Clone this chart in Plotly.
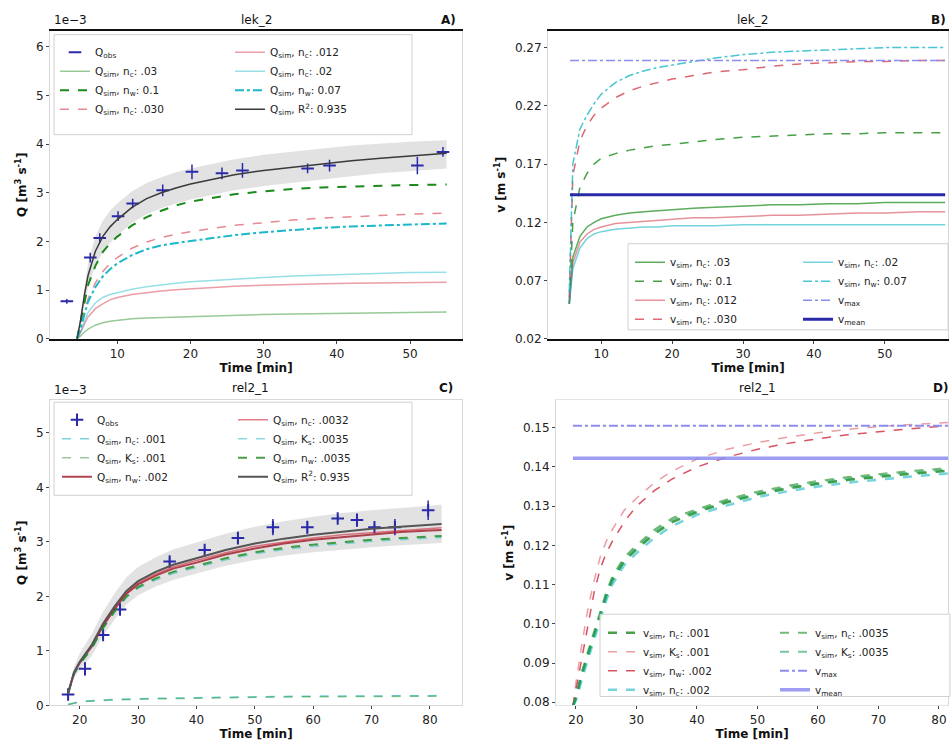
import plotly.graph_objects as go

W, H = 952, 751
FONT = "DejaVu Sans"

def fx(p):
    return p / W

def fy(p):
    return 1 - p / H

# ---------------- Panel A (lek_2, discharge) ----------------
tA = [4.5, 5, 5.5, 6, 7, 8, 9, 10, 12, 14, 16, 18, 20, 23, 26, 30, 34, 38, 42, 46, 50, 55]
qA_fit = [0, 0.4, 0.9, 1.3, 1.8, 2.1, 2.3, 2.45, 2.7, 2.88, 3.0, 3.1, 3.18, 3.28, 3.37, 3.46, 3.53, 3.6, 3.66, 3.71, 3.76, 3.81]
qA_up = [0, 0.55, 1.1, 1.55, 2.1, 2.42, 2.63, 2.78, 3.03, 3.2, 3.32, 3.42, 3.5, 3.6, 3.69, 3.78, 3.85, 3.91, 3.97, 4.01, 4.05, 4.08]
qA_lo = [0, 0.25, 0.7, 1.05, 1.5, 1.78, 1.97, 2.12, 2.38, 2.56, 2.68, 2.78, 2.86, 2.96, 3.05, 3.14, 3.21, 3.28, 3.34, 3.4, 3.45, 3.5]
qA_s1 = [0, 0.06, 0.14, 0.2, 0.28, 0.33, 0.36, 0.38, 0.41, 0.43, 0.44, 0.45, 0.46, 0.48, 0.49, 0.5, 0.51, 0.52, 0.53, 0.54, 0.55, 0.55]
qA_s2 = [0, 0.35, 0.75, 1.1, 1.5, 1.78, 1.96, 2.1, 2.33, 2.5, 2.63, 2.74, 2.82, 2.9, 2.97, 3.03, 3.08, 3.11, 3.13, 3.15, 3.16, 3.17]
qA_s3 = [0, 0.13, 0.3, 0.45, 0.62, 0.72, 0.8, 0.85, 0.91, 0.95, 0.98, 1.01, 1.03, 1.06, 1.08, 1.1, 1.12, 1.13, 1.14, 1.15, 1.16, 1.16]
qA_s4 = [0, 0.25, 0.55, 0.82, 1.15, 1.38, 1.55, 1.67, 1.86, 1.99, 2.08, 2.15, 2.2, 2.27, 2.33, 2.39, 2.44, 2.48, 2.51, 2.54, 2.56, 2.58]
qA_s5 = [0, 0.15, 0.36, 0.54, 0.74, 0.85, 0.91, 0.95, 1.02, 1.07, 1.11, 1.14, 1.17, 1.2, 1.23, 1.26, 1.29, 1.31, 1.33, 1.35, 1.36, 1.37]
qA_s6 = [0, 0.22, 0.5, 0.76, 1.06, 1.28, 1.43, 1.55, 1.72, 1.84, 1.92, 1.97, 2.01, 2.07, 2.13, 2.19, 2.24, 2.28, 2.31, 2.33, 2.35, 2.37]
tA_obs = [3.1, 6.3, 7.6, 10.1, 12.1, 16.2, 20.2, 24.3, 27.1, 36, 39, 51, 54.5]
qA_obs = [0.77, 1.67, 2.07, 2.52, 2.78, 3.05, 3.43, 3.4, 3.46, 3.5, 3.56, 3.56, 3.84]
qA_err = [0.05, 0.1, 0.1, 0.1, 0.1, 0.12, 0.15, 0.12, 0.15, 0.1, 0.12, 0.18, 0.1]

# ---------------- Panel B (lek_2, velocity) ----------------
tB = [5.5, 6, 7, 8, 9, 10, 12, 14, 16, 18, 20, 23, 26, 30, 34, 38, 42, 46, 50, 55, 58.5]
vB_s1 = [0.05, 0.09, 0.108, 0.116, 0.12, 0.123, 0.126, 0.128, 0.129, 0.13, 0.131, 0.132, 0.133, 0.134, 0.135, 0.135, 0.136, 0.136, 0.137, 0.137, 0.137]
vB_s2 = [0.05, 0.12, 0.15, 0.162, 0.17, 0.175, 0.179, 0.182, 0.184, 0.186, 0.187, 0.189, 0.191, 0.193, 0.194, 0.195, 0.196, 0.196, 0.197, 0.197, 0.197]
vB_s3 = [0.05, 0.085, 0.103, 0.11, 0.114, 0.116, 0.119, 0.12, 0.121, 0.122, 0.123, 0.124, 0.124, 0.125, 0.126, 0.126, 0.127, 0.128, 0.128, 0.129, 0.129]
vB_s4 = [0.055, 0.16, 0.19, 0.203, 0.212, 0.218, 0.227, 0.233, 0.237, 0.24, 0.243, 0.246, 0.249, 0.251, 0.254, 0.256, 0.257, 0.258, 0.258, 0.259, 0.259]
vB_s5 = [0.05, 0.08, 0.098, 0.106, 0.11, 0.112, 0.114, 0.115, 0.116, 0.116, 0.117, 0.117, 0.117, 0.118, 0.118, 0.118, 0.118, 0.118, 0.118, 0.118, 0.118]
vB_s6 = [0.06, 0.17, 0.2, 0.212, 0.222, 0.23, 0.24, 0.246, 0.25, 0.253, 0.255, 0.258, 0.261, 0.264, 0.266, 0.267, 0.268, 0.269, 0.27, 0.27, 0.27]
tB_line = [5.6, 58.5]
vB_max = [0.259, 0.259]
vB_mean = [0.1437, 0.1437]

# ---------------- Panel C (rel2_1, discharge) ----------------
tC = [18, 19, 20, 21, 22, 24, 26, 28, 30, 33, 36, 40, 45, 50, 55, 60, 65, 70, 75, 80, 82]
qC_fit = [0.22, 0.6, 0.8, 0.95, 1.1, 1.5, 1.82, 2.1, 2.28, 2.45, 2.58, 2.7, 2.85, 2.97, 3.06, 3.13, 3.19, 3.24, 3.28, 3.32, 3.33]
qC_up = [0.22, 0.7, 0.95, 1.13, 1.3, 1.72, 2.06, 2.35, 2.54, 2.72, 2.86, 2.99, 3.15, 3.28, 3.38, 3.46, 3.53, 3.58, 3.62, 3.66, 3.68]
qC_lo = [0.22, 0.5, 0.65, 0.78, 0.9, 1.28, 1.58, 1.85, 2.02, 2.18, 2.3, 2.42, 2.56, 2.67, 2.75, 2.81, 2.86, 2.9, 2.94, 2.97, 2.98]
qC_s1 = [0.02, 0.05, 0.07, 0.08, 0.09, 0.1, 0.11, 0.12, 0.12, 0.13, 0.14, 0.14, 0.15, 0.16, 0.16, 0.17, 0.17, 0.17, 0.18, 0.18, 0.18]
qC_s2 = [0.01, 0.04, 0.06, 0.07, 0.08, 0.09, 0.1, 0.11, 0.11, 0.12, 0.13, 0.13, 0.14, 0.15, 0.15, 0.16, 0.16, 0.16, 0.17, 0.17, 0.17]
qC_s3 = [0.22, 0.59, 0.78, 0.92, 1.07, 1.46, 1.77, 2.05, 2.22, 2.38, 2.51, 2.62, 2.77, 2.88, 2.97, 3.04, 3.09, 3.14, 3.18, 3.21, 3.22]
qC_s4 = [0.22, 0.6, 0.79, 0.94, 1.08, 1.48, 1.8, 2.07, 2.25, 2.41, 2.54, 2.66, 2.8, 2.92, 3.0, 3.07, 3.13, 3.17, 3.21, 3.25, 3.26]
qC_s5 = [0.22, 0.58, 0.76, 0.9, 1.04, 1.42, 1.73, 2.0, 2.17, 2.33, 2.45, 2.56, 2.7, 2.81, 2.89, 2.95, 3.0, 3.04, 3.07, 3.1, 3.11]
qC_s6 = [0.22, 0.57, 0.75, 0.89, 1.03, 1.41, 1.71, 1.98, 2.15, 2.3, 2.42, 2.53, 2.67, 2.78, 2.86, 2.92, 2.97, 3.01, 3.04, 3.07, 3.08]
tC_obs = [18, 20.9, 24, 26.9, 35.4, 41.4, 47.1, 53.1, 59, 64.2, 67.5, 70.5, 74, 79.7]
qC_obs = [0.2, 0.67, 1.29, 1.76, 2.64, 2.85, 3.07, 3.27, 3.27, 3.43, 3.4, 3.27, 3.27, 3.58]
qC_err = [0.03, 0.12, 0.05, 0.05, 0.08, 0.05, 0.1, 0.15, 0.12, 0.05, 0.12, 0.05, 0.15, 0.18]

# ---------------- Panel D (rel2_1, velocity) ----------------
tD = [19.5, 20, 21, 22, 23, 24, 25, 26, 28, 30, 33, 36, 40, 45, 50, 55, 60, 65, 70, 75, 80, 81.5]
vD_s1 = [0.079, 0.081, 0.087, 0.092, 0.097, 0.102, 0.107, 0.111, 0.116, 0.119, 0.123, 0.126, 0.1285, 0.131, 0.133, 0.1345, 0.1357, 0.1367, 0.1375, 0.1382, 0.1388, 0.139]
vD_s2 = [0.079, 0.085, 0.095, 0.104, 0.111, 0.117, 0.121, 0.124, 0.129, 0.132, 0.136, 0.139, 0.142, 0.1445, 0.1462, 0.1476, 0.1487, 0.1496, 0.1503, 0.1508, 0.1512, 0.1513]
vD_s3 = [0.079, 0.083, 0.092, 0.1, 0.108, 0.114, 0.118, 0.121, 0.126, 0.13, 0.134, 0.137, 0.14, 0.1425, 0.1445, 0.146, 0.1472, 0.1482, 0.149, 0.1497, 0.1503, 0.1505]
vD_s4 = [0.079, 0.0805, 0.086, 0.091, 0.096, 0.101, 0.106, 0.11, 0.115, 0.118, 0.122, 0.125, 0.1278, 0.1302, 0.1323, 0.1338, 0.135, 0.136, 0.1368, 0.1375, 0.1381, 0.1383]
vD_s5 = [0.079, 0.0815, 0.088, 0.093, 0.098, 0.103, 0.108, 0.112, 0.117, 0.12, 0.124, 0.127, 0.1292, 0.1317, 0.1337, 0.1352, 0.1364, 0.1374, 0.1382, 0.1389, 0.1395, 0.1397]
vD_s6 = [0.079, 0.0812, 0.0875, 0.0925, 0.0975, 0.1025, 0.1075, 0.1115, 0.1165, 0.1195, 0.1235, 0.1265, 0.1288, 0.1313, 0.1333, 0.1348, 0.136, 0.137, 0.1378, 0.1385, 0.1391, 0.1393]
tD_line = [19.5, 81.5]
vD_max = [0.1505, 0.1505]
vD_mean = [0.1422, 0.1422]

GREEN = "#1a8a1a"
RED = "#d0283a"
CYAN = "#1ab8c8"
BLUE = "#2a2aa8"
LAV = "#8c8cf0"

fig = go.Figure()

def line(x, y, name, color, dash="solid", width=1.5, xa="x", ya="y", legend="legend", show=True, opacity=1.0):
    fig.add_trace(go.Scatter(x=x, y=y, mode="lines", name=name, opacity=opacity,
                             line=dict(color=color, dash=dash, width=width),
                             xaxis=xa, yaxis=ya, legend=legend, showlegend=show))

def band(x, lo, up, xa, ya):
    fig.add_trace(go.Scatter(x=x, y=lo, mode="lines", line=dict(width=0), showlegend=False,
                             xaxis=xa, yaxis=ya, hoverinfo="skip"))
    fig.add_trace(go.Scatter(x=x, y=up, mode="lines", line=dict(width=0), fill="tonexty",
                             fillcolor="rgba(150,150,150,0.28)", showlegend=False,
                             xaxis=xa, yaxis=ya, hoverinfo="skip"))

# ---- A traces
band(tA, qA_lo, qA_up, "x", "y")
fig.add_trace(go.Scatter(x=tA_obs, y=qA_obs, mode="markers", name="Q<sub>obs</sub>",
                         marker=dict(symbol="line-ew-open", size=9, line=dict(color=BLUE, width=2), color=BLUE),
                         error_y=dict(type="data", array=qA_err, color=BLUE, thickness=1.5, width=0),
                         xaxis="x", yaxis="y", legend="legend"))
line(tA, qA_s1, "Q<sub>sim</sub>, n<sub>c</sub>: .03", GREEN, "solid", 1.5, legend="legend", opacity=0.45)
line(tA, qA_s2, "Q<sub>sim</sub>, n<sub>w</sub>: 0.1", GREEN, "dash", 2, legend="legend")
line(tA, qA_s4, "Q<sub>sim</sub>, n<sub>c</sub>: .030", RED, "dash", 1.5, legend="legend", opacity=0.55)
line(tA, qA_s3, "Q<sub>sim</sub>, n<sub>c</sub>: .012", RED, "solid", 1.5, legend="legend2", opacity=0.45)
line(tA, qA_s5, "Q<sub>sim</sub>, n<sub>c</sub>: .02", CYAN, "solid", 1.5, legend="legend2", opacity=0.45)
line(tA, qA_s6, "Q<sub>sim</sub>, n<sub>w</sub>: 0.07", CYAN, "dashdot", 2, legend="legend2")
line(tA, qA_fit, "Q<sub>sim</sub>, R<sup>2</sup>: 0.935", "#3a3a3a", "solid", 1.5, legend="legend2")

# ---- B traces
line(tB, vB_s1, "v<sub>sim</sub>, n<sub>c</sub>: .03", GREEN, "solid", 1.5, "x2", "y2", "legend3", opacity=0.7)
line(tB, vB_s2, "v<sub>sim</sub>, n<sub>w</sub>: 0.1", GREEN, "dash", 1.5, "x2", "y2", "legend3", opacity=0.8)
line(tB, vB_s3, "v<sub>sim</sub>, n<sub>c</sub>: .012", RED, "solid", 1.5, "x2", "y2", "legend3", opacity=0.5)
line(tB, vB_s4, "v<sub>sim</sub>, n<sub>c</sub>: .030", RED, "dash", 1.5, "x2", "y2", "legend3", opacity=0.7)
line(tB, vB_s5, "v<sub>sim</sub>, n<sub>c</sub>: .02", CYAN, "solid", 1.5, "x2", "y2", "legend4", opacity=0.6)
line(tB, vB_s6, "v<sub>sim</sub>, n<sub>w</sub>: 0.07", CYAN, "dashdot", 1.5, "x2", "y2", "legend4", opacity=0.8)
line(tB_line, vB_max, "v<sub>max</sub>", LAV, "dashdot", 1.5, "x2", "y2", "legend4")
line(tB_line, vB_mean, "v<sub>mean</sub>", BLUE, "solid", 3, "x2", "y2", "legend4")

# ---- C traces
band(tC, qC_lo, qC_up, "x3", "y3")
fig.add_trace(go.Scatter(x=tC_obs, y=qC_obs, mode="markers", name="Q<sub>obs</sub>",
                         marker=dict(symbol="cross-thin-open", size=9, line=dict(color=BLUE, width=2), color=BLUE),
                         error_y=dict(type="data", array=qC_err, color=BLUE, thickness=1.5, width=0),
                         xaxis="x3", yaxis="y3", legend="legend5"))
line(tC, qC_s1, "Q<sub>sim</sub>, n<sub>c</sub>: .001", CYAN, "dash", 1.5, "x3", "y3", "legend5", opacity=0.6)
line(tC, qC_s2, "Q<sub>sim</sub>, K<sub>s</sub>: .001", GREEN, "dash", 1.5, "x3", "y3", "legend5", opacity=0.45)
line(tC, qC_s3, "Q<sub>sim</sub>, n<sub>w</sub>: .002", "#a01828", "solid", 2, "x3", "y3", "legend5", opacity=0.8)
line(tC, qC_s4, "Q<sub>sim</sub>, n<sub>c</sub>: .0032", RED, "solid", 1.5, "x3", "y3", "legend6", opacity=0.6)
line(tC, qC_s6, "Q<sub>sim</sub>, K<sub>s</sub>: .0035", CYAN, "dash", 1.5, "x3", "y3", "legend6", opacity=0.5)
line(tC, qC_s5, "Q<sub>sim</sub>, n<sub>w</sub>: .0035", GREEN, "dash", 2, "x3", "y3", "legend6", opacity=0.8)
line(tC, qC_fit, "Q<sub>sim</sub>, R<sup>2</sup>: 0.935", "#555555", "solid", 2, "x3", "y3", "legend6")

# ---- D traces
line(tD, vD_s1, "v<sub>sim</sub>, n<sub>c</sub>: .001", GREEN, "dash", 2.5, "x4", "y4", "legend7", opacity=0.8)
line(tD, vD_s2, "v<sub>sim</sub>, K<sub>s</sub>: .001", RED, "dash", 1.5, "x4", "y4", "legend7", opacity=0.45)
line(tD, vD_s3, "v<sub>sim</sub>, n<sub>w</sub>: .002", RED, "dash", 1.5, "x4", "y4", "legend7", opacity=0.8)
line(tD, vD_s4, "v<sub>sim</sub>, n<sub>c</sub>: .002", CYAN, "dash", 2.5, "x4", "y4", "legend7", opacity=0.6)
line(tD, vD_s5, "v<sub>sim</sub>, n<sub>c</sub>: .0035", GREEN, "dash", 2, "x4", "y4", "legend8", opacity=0.6)
line(tD, vD_s6, "v<sub>sim</sub>, K<sub>s</sub>: .0035", "#20a060", "dash", 2, "x4", "y4", "legend8", opacity=0.6)
line(tD_line, vD_max, "v<sub>max</sub>", LAV, "dashdot", 2, "x4", "y4", "legend8")
line(tD_line, vD_mean, "v<sub>mean</sub>", LAV, "solid", 3.5, "x4", "y4", "legend8", opacity=0.85)

# ---------------- Layout ----------------
TICKF = dict(family=FONT, size=12, color="#222")
TITLEF = dict(family=FONT, size=12, color="#111")

def xaxis(dom, rng, ticks, anchor, framecol, framew):
    return dict(domain=dom, range=rng, tickvals=ticks, anchor=anchor, showgrid=False, zeroline=False,
                showline=True, mirror=True, linecolor=framecol, linewidth=framew,
                ticks="outside", ticklen=3, tickcolor="#444", tickfont=TICKF,
                title=dict(text="<b>Time [min]</b>", font=TITLEF, standoff=2))

def yaxis(dom, rng, ticks, anchor, title, fmt=None):
    d = dict(domain=dom, range=rng, tickvals=ticks, anchor=anchor, showgrid=False, zeroline=False,
             showline=True, mirror=True, linecolor="#d8d8d8", linewidth=1,
             ticks="outside", ticklen=3, tickcolor="#444", tickfont=TICKF,
             title=dict(text=title, font=TITLEF, standoff=6))
    if fmt:
        d["tickformat"] = fmt
    return d

xA = [fx(50), fx(462)]
xB = [fx(548), fx(948)]
xC = [fx(50), fx(462)]
xD = [fx(556), fx(948)]
yTop = [fy(342), fy(31)]
yBot = [fy(712), fy(404)]

QT = "<b>Q [m<sup>3</sup> s<sup>-1</sup>]</b>"
VT = "<b>v [m s<sup>-1</sup>]</b>"

legend_common = dict(bgcolor="rgba(0,0,0,0)", borderwidth=0, font=dict(family=FONT, size=10.5, color="#222"),
                     xanchor="left", yanchor="top", tracegroupgap=0, itemwidth=30, traceorder="normal")

def leg(x, y):
    d = dict(legend_common)
    d.update(x=x, y=y)
    return d

fig.update_layout(
    width=W, height=H, margin=dict(l=0, r=0, t=0, b=0),
    paper_bgcolor="white", plot_bgcolor="white",
    font=dict(family=FONT, size=12, color="#222"),
    xaxis=xaxis(xA, [0.8, 57.1], [10, 20, 30, 40, 50], "y", "#111", 1.5),
    yaxis=yaxis(yTop, [0, 6.33], [0, 1, 2, 3, 4, 5, 6], "x", QT),
    xaxis2=xaxis(xB, [2.5, 58.9], [10, 20, 30, 40, 50], "y2", "#111", 1.5),
    yaxis2=yaxis(yTop, [0.02, 0.2845], [0.02, 0.07, 0.12, 0.17, 0.22, 0.27], "x2", VT, ".2f"),
    xaxis3=xaxis(xC, [14.9, 85.5], [20, 30, 40, 50, 60, 70, 80], "y3", "#d8d8d8", 1),
    yaxis3=yaxis(yBot, [0, 5.6], [0, 1, 2, 3, 4, 5], "x3", QT),
    xaxis4=xaxis(xD, [16.7, 81.5], [20, 30, 40, 50, 60, 70, 80], "y4", "#e4e4e4", 1),
    yaxis4=yaxis(yBot, [0.0792, 0.157], [0.08, 0.09, 0.10, 0.11, 0.12, 0.13, 0.14, 0.15], "x4", VT, ".2f"),
    legend=leg(fx(55), fy(38)),
    legend2=leg(fx(230), fy(38)),
    legend3=leg(fx(630), fy(250)),
    legend4=leg(fx(798), fy(250)),
    legend5=leg(fx(57), fy(409)),
    legend6=leg(fx(233), fy(409)),
    legend7=leg(fx(603), fy(624)),
    legend8=leg(fx(775), fy(624)),
)

# legend frames (layout decoration)
frames = [(54, 35, 412, 136), (628, 246, 948, 333), (54, 406, 412, 500), (600, 620, 950, 703)]
for (x0, y0, x1, y1) in frames:
    fig.add_shape(type="rect", xref="paper", yref="paper", x0=fx(x0), x1=fx(x1), y0=fy(y1), y1=fy(y0),
                  fillcolor="rgba(255,255,255,0.82)", line=dict(color="#d0d0d0", width=1), layer="above")

# titles and panel labels
ann = [
    ("lek_2", 256, 20, "center"), ("<b>A)</b>", 458, 20, "right"),
    ("lek_2", 752, 20, "center"), ("<b>B)</b>", 948, 20, "right"),
    ("rel2_1", 250, 392, "center"), ("<b>C)</b>", 455, 392, "right"),
    ("rel2_1", 757, 392, "center"), ("<b>D)</b>", 950, 392, "right"),
    ("1e\u22123", 52, 20, "left"), ("1e\u22123", 52, 394, "left"),
]
for text, x, y, al in ann:
    fig.add_annotation(text=text, x=fx(x), y=fy(y), xref="paper", yref="paper", showarrow=False,
                       xanchor=al, yanchor="middle", font=dict(family=FONT, size=12, color="#111"))

fig.write_html("out.html")
